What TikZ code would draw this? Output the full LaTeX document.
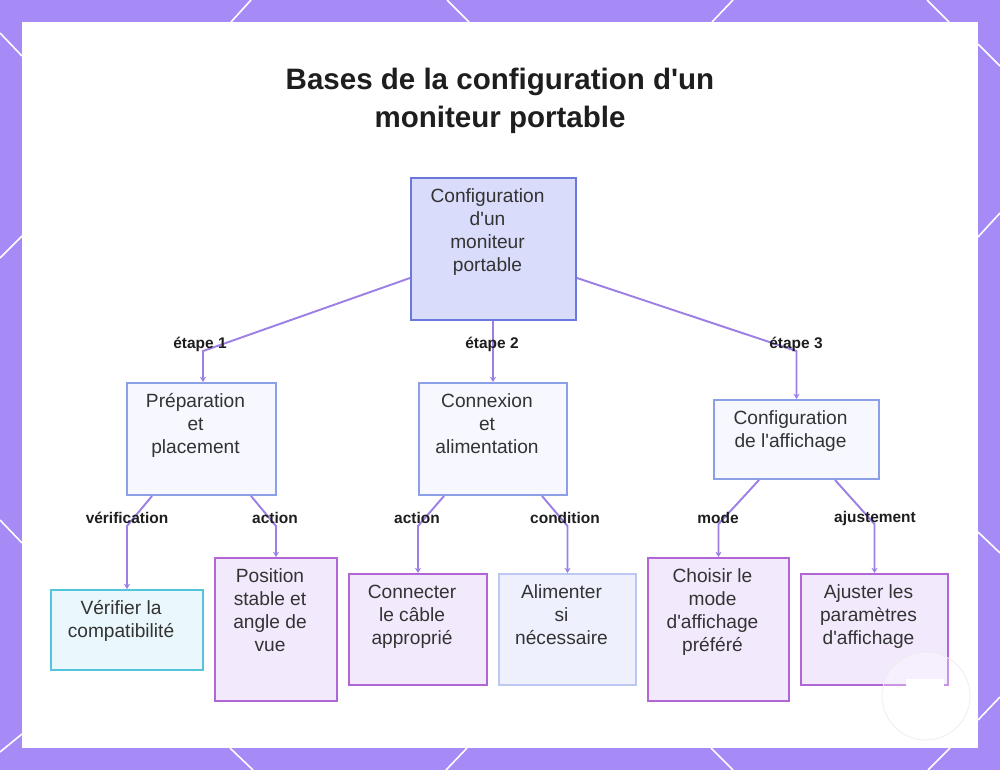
\documentclass[tikz,border=0pt]{standalone}
\usepackage{fontspec}
\setmainfont{Liberation Sans}
\usepackage{xcolor}
\usetikzlibrary{calc,arrows.meta}
\definecolor{frame}{RGB}{166,139,247}
\definecolor{wire}{RGB}{156,128,230}
\definecolor{ink}{RGB}{51,51,51}
\definecolor{dark}{RGB}{30,30,30}
\definecolor{rootfill}{RGB}{217,220,251}
\definecolor{rootline}{RGB}{108,120,220}
\definecolor{stagefill}{RGB}{246,247,255}
\definecolor{stageline}{RGB}{140,160,232}
\definecolor{checkfill}{RGB}{234,248,253}
\definecolor{checkline}{RGB}{84,196,218}
\definecolor{actfill}{RGB}{243,233,253}
\definecolor{actline}{RGB}{178,102,214}
\definecolor{condfill}{RGB}{238,241,253}
\definecolor{condline}{RGB}{188,200,242}
\newlength{\px}
\setlength{\px}{0.02cm}
% straight apostrophe
\newcommand{\ap}{\textquotesingle}
% box text: width, height (px), lines
\newcommand{\boxtext}[3]{\makebox[#1\px][l]{\parbox[c][#2\px][t]{\dimexpr#1\px-12\px\relax}{\centering\vspace*{5pt}\strut#3}}}

\begin{document}
\begin{tikzpicture}[x=0.02cm, y=-0.02cm, >=Stealth,
  box/.style={draw, line width=1.1pt, inner sep=0pt, text=ink, font=\fontsize{10.9}{13}\selectfont},
  rootbox/.style={box, fill=rootfill, draw=rootline},
  stagebox/.style={box, fill=stagefill, draw=stageline},
  checkbox/.style={box, fill=checkfill, draw=checkline},
  actbox/.style={box, fill=actfill, draw=actline},
  condbox/.style={box, fill=condfill, draw=condline},
  link/.style={draw=wire, line width=1.1pt, -{Stealth[length=3pt, width=3.5pt]}},
  tag/.style={text=dark, font=\bfseries\fontsize{8.8}{10}\selectfont}]
  \useasboundingbox (0,0) rectangle (1000,770);

  % frame and panel
  \fill[frame] (0,0) rectangle (1000,770);
  \foreach \a/\b in {{251,0}/{231,22}, {447,0}/{469,22}, {733,0}/{712,22}, {927,0}/{949,22},
                     {230,748}/{253,770}, {467,748}/{446,770}, {711,748}/{733,770}, {950,748}/{928,770},
                     {0,33}/{22,56}, {0,258}/{22,236}, {0,520}/{22,543}, {0,752}/{22,734},
                     {978,44}/{1000,66}, {978,237}/{1000,213}, {978,532}/{1000,553}, {978,720}/{1000,697}}
    \draw[white, line width=0.9pt] (\a) -- (\b);
  \fill[white] (22,22) rectangle (978,748);

  % title
  \node[text=dark, font=\bfseries\fontsize{16.8}{21.5}\selectfont, align=center] (title) at (500,101)
    {Bases de la configuration d\ap un\\moniteur portable};

  % root and the three stages
  \node[rootbox] (root) at (493.5,249) {\boxtext{165}{142}{Configuration\\d\ap un\\moniteur\\portable}};
  \node[stagebox] (prep) at (201.5,439) {\boxtext{149}{112}{Préparation\\et\\placement}};
  \node[stagebox] (conn) at (493,439) {\boxtext{148}{112}{Connexion\\et\\alimentation}};
  \node[stagebox] (disp) at (796.5,439.5) {\boxtext{165}{79}{Configuration\\de l\ap affichage}};

  % leaves
  \node[checkbox] (check) at (127,630) {\boxtext{152}{80}{Vérifier la\\compatibilité}};
  \node[actbox] (stand) at (276,629.5) {\boxtext{122}{143}{Position\\stable et\\angle de\\vue}};
  \node[actbox] (cable) at (418,629.5) {\boxtext{138}{111}{Connecter\\le câble\\approprié}};
  \node[condbox] (power) at (567.5,629.5) {\boxtext{137}{111}{Alimenter\\si\\nécessaire}};
  \node[actbox] (mode) at (718.5,629.5) {\boxtext{141}{143}{Choisir le\\mode\\d\ap affichage\\préféré}};
  \node[actbox] (tune) at (874.5,629.5) {\boxtext{147}{111}{Ajuster les\\paramètres\\d\ap affichage}};

  % root to stages
  \draw[link] ($(root.west)+(0,29)$) -- ($(prep.north)+(1.5,-31)$) -- ($(prep.north)+(1.5,0)$);
  \draw[link] (conn.north |- root.south) -- (conn.north);
  \draw[link] ($(root.east)+(0,29)$) -- ($(disp.north)+(0,-48)$) -- (disp.north);
  \node[tag] (t1) at (200,344) {étape 1};
  \node[tag] (t2) at (492,344) {étape 2};
  \node[tag] (t3) at (796,344) {étape 3};

  % stages to leaves
  \draw[link] ($(prep.south west)+(26,0)$) -- ($(check.north)+(0,-63)$) -- (check.north);
  \draw[link] ($(prep.south east)+(-26,0)$) -- ($(stand.north)+(0,-31)$) -- (stand.north);
  \draw[link] ($(conn.south west)+(26,0)$) -- ($(cable.north)+(0,-47)$) -- (cable.north);
  \draw[link] ($(conn.south east)+(-26,0)$) -- ($(power.north)+(0,-47)$) -- (power.north);
  \draw[link] ($(disp.south west)+(46,0)$) -- ($(mode.north)+(0,-33)$) -- (mode.north);
  \draw[link] ($(disp.south east)+(-45,0)$) -- ($(tune.north)+(0,-49)$) -- (tune.north);
  \node[tag] (t4) at (127,518) {vérification};
  \node[tag] (t5) at (275,518) {action};
  \node[tag] (t6) at (417,518) {action};
  \node[tag] (t7) at (565,518) {condition};
  \node[tag] (t8) at (718,518) {mode};
  \node[tag] (t9) at (875,518) {ajustement};

  % watermark
  \draw[gray!15, fill=white, fill opacity=0.3] (926,696) circle[radius=44];
  \fill[white] (906,679) rectangle (944,708);
\end{tikzpicture}
\end{document}
